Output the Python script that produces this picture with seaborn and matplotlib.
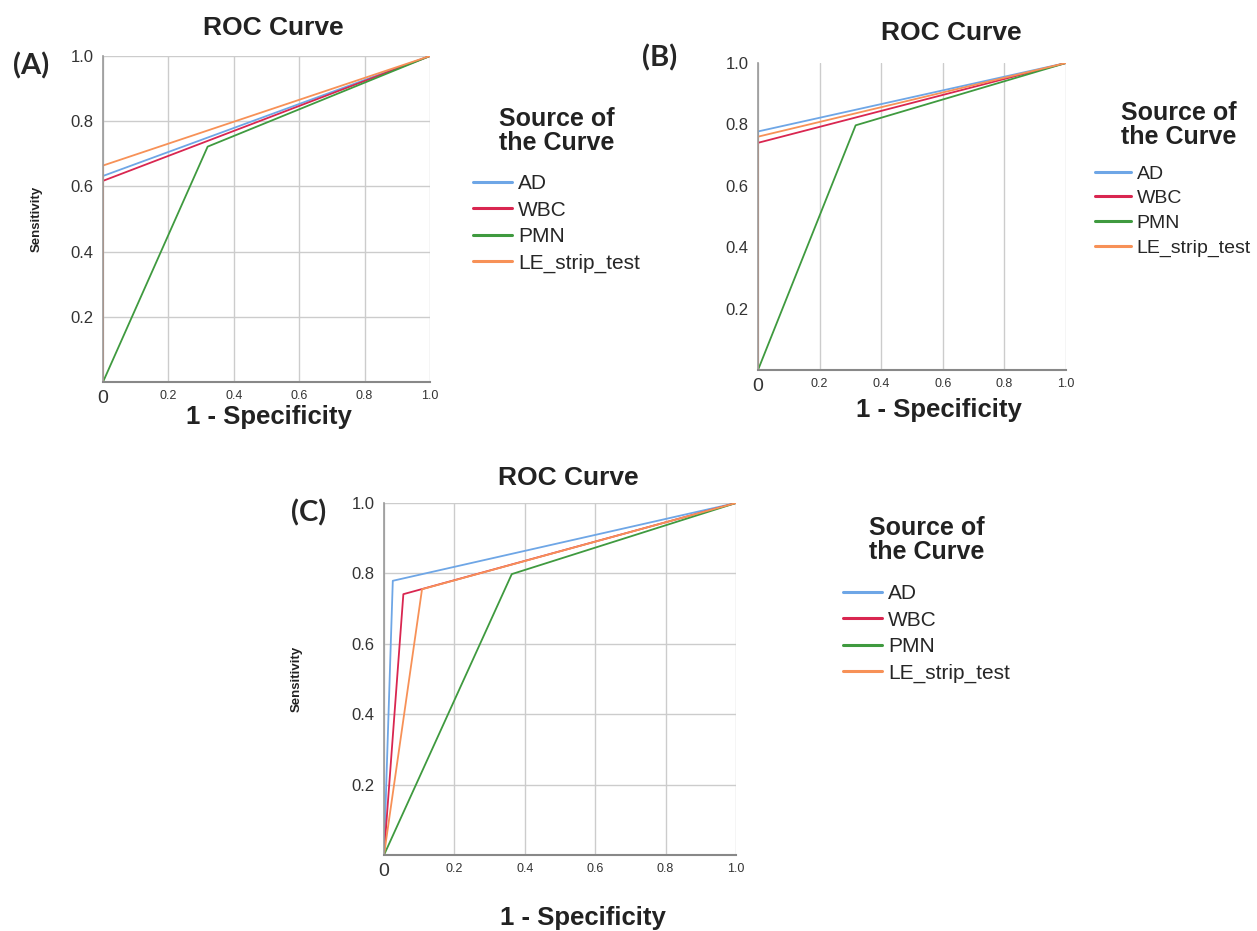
import pandas as pd
import matplotlib
matplotlib.use("Agg")
import matplotlib.pyplot as plt
import seaborn as sns

# ROC points (1 - specificity, sensitivity)
sources = ["AD", "WBC", "PMN", "LE_strip_test"]
colors = ["#6ea6e6", "#d92650", "#3f9a3f", "#f79157"]

a_fpr = {"AD": [0, 0, 1], "WBC": [0, 0, 1], "PMN": [0, 0.32, 1], "LE_strip_test": [0, 0, 1]}
a_tpr = {"AD": [0, 0.632, 1], "WBC": [0, 0.617, 1], "PMN": [0, 0.722, 1], "LE_strip_test": [0, 0.664, 1]}

b_fpr = {"AD": [0, 0, 1], "WBC": [0, 0, 1], "PMN": [0, 0.317, 1], "LE_strip_test": [0, 0, 1]}
b_tpr = {"AD": [0, 0.777, 1], "WBC": [0, 0.740, 1], "PMN": [0, 0.797, 1], "LE_strip_test": [0, 0.760, 1]}

c_fpr = {"AD": [0, 0.025, 1], "WBC": [0, 0.055, 1], "PMN": [0, 0.363, 1], "LE_strip_test": [0, 0.108, 1]}
c_tpr = {"AD": [0, 0.779, 1], "WBC": [0, 0.741, 1], "PMN": [0, 0.798, 1], "LE_strip_test": [0, 0.755, 1]}

ticks = [0.2, 0.4, 0.6, 0.8, 1.0]
tick_labels = ["0.2", "0.4", "0.6", "0.8", "1.0"]

sns.set_style("white")
plt.rcParams["font.family"] = ["Liberation Sans", "DejaVu Sans"]

fig = plt.figure(figsize=(12.57, 9.31), dpi=100)
W, H = 1257, 931


def fx(x):
    return x / W


def fy(y):
    return 1 - y / H


def frame(fpr, tpr):
    rows = []
    for s in sources:
        for x, y in zip(fpr[s], tpr[s]):
            rows.append({"fpr": x, "tpr": y, "source": s})
    return pd.DataFrame(rows)


def panel(box, fpr, tpr, letter, letter_xy, title_xy, xlab_xy, sens_x,
          leg_x, leg_title_y, leg_top, leg_size=15, hgrid=True):
    l, t, r, b = box
    ax = fig.add_axes([fx(l), fy(b), (r - l) / W, (b - t) / H])
    sns.lineplot(data=frame(fpr, tpr), x="fpr", y="tpr", hue="source",
                 hue_order=sources, palette=colors, sort=False,
                 estimator=None, linewidth=1.3, ax=ax, legend=True)
    ax.set_xlim(0, 1)
    ax.set_ylim(0, 1)
    ax.set_xticks([0] + ticks)
    ax.set_xticklabels(["0"] + tick_labels)
    ax.set_yticks(ticks)
    ax.set_yticklabels(tick_labels, fontsize=12, color="#333333")
    for i, lab in enumerate(ax.get_xticklabels()):
        lab.set_fontsize(14 if i == 0 else 9)
        lab.set_color("#333333")
    ax.tick_params(axis="x", length=0, pad=6)
    ax.tick_params(axis="y", length=0, pad=7)
    ax.grid(axis="x", color="#cccccc", linewidth=1)
    if hgrid:
        ax.grid(axis="y", color="#cccccc", linewidth=1)
    for side in ["top", "right"]:
        ax.spines[side].set_visible(False)
    ax.spines["left"].set_color("#999999")
    ax.spines["bottom"].set_color("#888888")
    ax.spines["left"].set_linewidth(1.2)
    ax.spines["bottom"].set_linewidth(1.5)
    ax.set_xlabel("")
    ax.set_ylabel("")

    fig.text(fx(title_xy[0]), fy(title_xy[1]), "ROC Curve", ha="center",
             va="center", fontsize=19, fontweight="bold", color="#222222")
    fig.text(fx(xlab_xy[0]), fy(xlab_xy[1]), "1 - Specificity", ha="center",
             va="center", fontsize=18.5, fontweight="bold", color="#222222")
    fig.text(fx(letter_xy[0]), fy(letter_xy[1]), letter, ha="center",
             va="center", fontsize=21, fontweight="bold",
             family=["Lato", "DejaVu Sans"])
    if sens_x is not None:
        fig.text(fx(sens_x), fy((t + b) / 2), "Sensitivity",
                 rotation=90, ha="center", va="center", fontsize=9.5,
                 fontweight="bold", color="#222222")

    # legend title drawn as its own text, entries as a plain legend
    fig.text(fx(leg_x + 84), fy(leg_title_y), "Source of\nthe Curve",
             ha="center", va="center", fontsize=18, fontweight="bold",
             linespacing=0.95, color="#222222")
    handles, labels = ax.get_legend_handles_labels()
    leg = ax.legend(handles, labels, loc="upper left",
                    bbox_to_anchor=(fx(leg_x), fy(leg_top)),
                    bbox_transform=fig.transFigure, frameon=False,
                    borderpad=0, borderaxespad=0, fontsize=leg_size,
                    handlelength=1.85, handletextpad=0.3, labelspacing=0.36)
    for line in leg.get_lines():
        line.set_linewidth(2.2)
    return ax


panel((103, 56, 430, 382), a_fpr, a_tpr, "(A)", (31, 66), (273, 28),
      (269, 417), 37, 473, 131, 174)
panel((758, 63, 1066, 370), b_fpr, b_tpr, "(B)", (660, 58), (951, 33),
      (939, 410), None, 1095, 125, 165, leg_size=14, hgrid=False)
panel((384, 503, 736, 855), c_fpr, c_tpr, "(C)", (309, 513), (568, 478),
      (583, 918), 297, 843, 540, 584)

fig.savefig("out.png", dpi=100, facecolor="white")
